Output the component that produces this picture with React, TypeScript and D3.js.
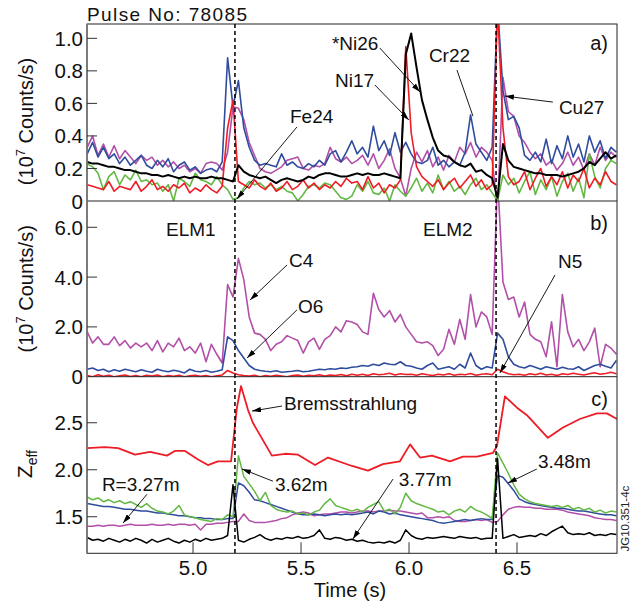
import React from "react";
import * as d3 from "d3";

// ---------- sampling grid (s) ----------
const T0 = 4.51;
const DT = 0.025;

// ---------- panel a: impurity line intensities (1e7 counts/s) ----------
const aCr22 = [0.29,0.36,0.27,0.33,0.26,0.29,0.23,0.27,0.22,0.25,
 0.28,0.22,0.20,0.25,0.21,0.26,0.18,0.22,0.24,0.19,
 0.21,0.17,0.19,0.20,0.18,0.24,0.88,0.58,0.74,0.45,
 0.33,0.25,0.22,0.23,0.22,0.21,0.29,0.22,0.24,0.21,
 0.20,0.23,0.21,0.25,0.22,0.29,0.31,0.24,0.30,0.37,
 0.29,0.33,0.27,0.46,0.31,0.37,0.28,0.42,0.30,0.36,
 0.29,0.24,0.23,0.25,0.33,0.22,0.25,0.21,0.24,0.22,
 0.30,0.53,0.35,0.30,0.25,0.33,1.20,0.68,0.50,0.52,
 0.45,0.28,0.25,0.30,0.24,0.38,0.23,0.34,0.26,0.40,
 0.27,0.35,0.24,0.40,0.30,0.37,0.26,0.33,0.30];
const aNi17 = [0.10,0.09,0.08,0.07,0.12,0.06,0.09,0.08,0.07,0.12,
 0.06,0.09,0.13,0.07,0.09,0.06,0.10,0.08,0.11,0.05,
 0.08,0.06,0.10,0.07,0.05,0.09,0.45,0.62,0.12,0.10,
 0.08,0.13,0.09,0.07,0.11,0.06,0.08,0.12,0.07,0.09,
 0.13,0.08,0.11,0.07,0.10,0.08,0.12,0.09,0.14,0.11,
 0.12,0.07,0.15,0.08,0.11,0.05,0.10,0.08,0.13,0.95,
 0.42,0.21,0.15,0.12,0.09,0.13,0.07,0.11,0.14,0.08,
 0.12,0.16,0.09,0.13,0.07,0.10,1.20,0.45,0.15,0.10,
 0.12,0.18,0.07,0.14,0.20,0.09,0.15,0.10,0.18,0.08,
 0.16,0.12,0.20,0.08,0.14,0.10,0.18,0.12,0.10];
const aNi26 = [0.24,0.23,0.23,0.22,0.21,0.21,0.20,0.19,0.19,0.18,
 0.17,0.17,0.16,0.16,0.15,0.16,0.15,0.14,0.15,0.14,
 0.15,0.14,0.14,0.15,0.14,0.14,0.13,0.12,0.22,0.18,
 0.16,0.15,0.14,0.15,0.13,0.11,0.13,0.14,0.13,0.12,
 0.13,0.15,0.14,0.16,0.17,0.17,0.16,0.15,0.15,0.16,
 0.17,0.16,0.17,0.16,0.16,0.17,0.16,0.15,0.14,0.90,
 1.03,0.82,0.62,0.50,0.39,0.31,0.28,0.27,0.24,0.22,
 0.21,0.23,0.18,0.19,0.16,0.14,0.02,0.35,0.25,0.21,
 0.20,0.19,0.18,0.17,0.17,0.16,0.16,0.16,0.15,0.16,
 0.17,0.18,0.20,0.24,0.22,0.26,0.30,0.26,0.28];
const aCu27 = [0.33,0.40,0.28,0.35,0.27,0.34,0.26,0.31,0.27,0.23,
 0.28,0.25,0.27,0.22,0.25,0.21,0.24,0.20,0.22,0.18,
 0.20,0.17,0.23,0.24,0.23,0.19,0.30,0.58,0.57,0.50,
 0.36,0.28,0.20,0.18,0.17,0.19,0.21,0.25,0.26,0.27,
 0.20,0.19,0.22,0.21,0.23,0.33,0.26,0.24,0.27,0.23,
 0.25,0.28,0.22,0.29,0.20,0.25,0.32,0.20,0.14,0.03,
 0.20,0.30,0.24,0.31,0.21,0.27,0.19,0.28,0.24,0.33,
 0.29,0.36,0.27,0.33,0.30,0.25,-0.05,0.76,0.55,0.52,
 0.40,0.36,0.30,0.26,0.29,0.22,0.25,0.19,0.23,0.30,
 0.22,0.27,0.19,0.29,0.22,0.33,0.25,0.30,0.27];
const aFe24 = [0.23,0.21,0.17,0.07,0.15,0.18,0.10,0.16,0.13,0.19,
 0.12,0.13,0.10,0.11,0.06,0.10,0.00,0.14,0.12,0.09,
 0.17,0.13,0.12,0.10,0.15,0.10,0.07,0.01,0.02,0.08,
 0.12,0.10,0.11,0.08,0.10,0.07,0.09,0.06,0.05,0.00,
 0.04,0.09,0.10,0.08,0.11,0.10,0.06,0.02,0.01,0.03,
 0.10,0.06,0.12,0.05,0.04,0.08,0.00,0.10,0.06,0.03,
 0.08,0.14,0.06,0.11,0.05,0.16,0.07,0.12,0.06,0.09,
 0.04,0.10,0.14,0.07,0.10,0.05,0.00,0.16,0.10,0.14,
 0.05,0.12,0.18,0.04,0.13,0.07,0.15,0.03,0.12,0.17,
 0.06,0.14,0.02,0.29,0.15,0.08,0.20,0.25,0.23];

// ---------- panel b: light impurities ----------
const bC4 = [1.80,1.35,1.60,1.30,1.30,1.60,1.25,1.45,1.15,1.35,
 1.20,1.35,1.05,1.45,1.00,1.35,1.20,1.55,1.05,1.20,
 0.95,1.35,0.60,1.30,0.90,0.55,3.70,3.20,4.75,3.90,
 2.40,1.75,1.70,1.50,1.05,1.30,1.40,1.65,1.55,1.45,
 0.95,1.40,1.55,1.10,1.50,1.65,2.00,1.80,2.25,2.20,
 2.10,1.80,1.70,3.35,2.70,2.40,2.65,2.20,2.50,2.00,
 1.70,1.40,1.35,1.40,1.25,0.85,1.10,1.90,1.30,2.30,
 1.50,3.30,2.00,2.60,2.40,1.70,8.00,3.80,3.10,3.20,
 2.40,3.00,1.70,1.50,1.40,0.80,2.20,0.40,3.30,1.80,
 1.20,1.50,1.05,1.40,1.95,0.40,1.30,1.15,0.90];
const bO6 = [0.30,0.35,0.25,0.30,0.20,0.28,0.22,0.30,0.25,0.20,
 0.28,0.22,0.18,0.30,0.24,0.20,0.26,0.22,0.15,0.30,
 0.22,0.20,0.25,0.18,0.22,0.28,1.60,1.45,1.05,0.75,
 0.45,0.30,0.25,0.22,0.20,0.24,0.18,0.20,0.22,0.25,
 0.20,0.22,0.26,0.30,0.28,0.32,0.30,0.35,0.33,0.38,
 0.40,0.45,0.42,0.50,0.45,0.55,0.50,0.48,0.60,0.45,
 0.42,0.35,0.30,0.45,0.55,0.30,0.35,0.40,0.30,0.50,
 0.35,0.95,0.45,0.30,0.40,0.35,1.75,1.50,0.80,0.50,
 0.40,0.35,0.45,0.38,0.30,0.40,0.35,0.30,0.38,0.32,
 0.30,0.40,0.25,0.35,0.45,0.50,0.42,0.35,0.65];
const bN5 = [0.05,0.00,0.08,0.02,0.06,0.00,0.04,0.07,0.01,0.05,
 0.00,0.06,0.03,0.07,0.00,0.05,0.02,0.06,0.00,0.04,
 0.06,0.02,0.05,0.00,0.04,0.07,0.25,0.15,0.08,0.05,
 0.03,0.06,0.00,0.05,0.02,0.06,0.03,0.00,0.05,0.07,
 0.02,0.06,0.04,0.08,0.03,0.07,0.05,0.09,0.04,0.10,
 0.06,0.10,0.05,0.12,0.08,0.10,0.14,0.07,0.12,0.09,
 0.10,0.06,0.12,0.08,0.05,0.10,0.07,0.12,0.06,0.10,
 0.08,0.13,0.06,0.10,0.12,0.08,0.30,0.20,0.12,0.08,
 0.10,0.06,0.12,0.08,0.14,0.07,0.10,0.05,0.12,0.09,
 0.14,0.10,0.07,0.12,0.16,0.10,0.13,0.18,0.12];

// ---------- panel c: Zeff ----------
const cZ362 = [1.71,1.68,1.70,1.66,1.68,1.65,1.67,1.64,1.66,1.63,
 1.60,1.64,1.59,1.56,1.55,1.53,1.56,1.62,1.52,1.50,
 1.49,1.47,1.46,1.45,1.48,1.47,1.52,1.50,2.15,1.93,
 1.85,1.77,1.67,1.76,1.62,1.58,1.56,1.55,1.56,1.53,
 1.54,1.52,1.55,1.57,1.64,1.69,1.62,1.60,1.58,1.56,
 1.58,1.55,1.60,1.63,1.66,1.56,1.58,1.53,1.60,1.75,
 1.67,1.64,1.62,1.60,1.58,1.55,1.56,1.52,1.56,1.58,
 1.55,1.61,1.57,1.55,1.52,1.48,2.18,2.07,1.96,1.84,
 1.74,1.69,1.66,1.64,1.63,1.62,1.61,1.62,1.60,1.62,
 1.58,1.60,1.57,1.59,1.55,1.57,1.54,1.56,1.55];
const cZ348 = [1.64,1.63,1.62,1.61,1.61,1.60,1.59,1.58,1.58,1.57,
 1.56,1.56,1.55,1.54,1.54,1.53,1.52,1.51,1.51,1.50,
 1.49,1.49,1.48,1.48,1.47,1.47,1.48,1.48,1.86,1.83,
 1.76,1.68,1.67,1.65,1.63,1.61,1.59,1.57,1.55,1.53,
 1.52,1.52,1.53,1.52,1.51,1.52,1.53,1.52,1.53,1.52,
 1.53,1.54,1.55,1.53,1.56,1.55,1.53,1.54,1.52,1.51,
 1.50,1.49,1.48,1.47,1.46,1.44,1.43,1.44,1.45,1.46,
 1.47,1.46,1.47,1.48,1.47,1.47,1.94,1.92,1.85,1.78,
 1.69,1.66,1.64,1.63,1.62,1.61,1.60,1.59,1.59,1.58,
 1.57,1.56,1.56,1.55,1.54,1.53,1.52,1.52,1.51];
const cZ327 = [1.40,1.40,1.41,1.40,1.41,1.41,1.40,1.41,1.42,1.41,
 1.41,1.41,1.42,1.41,1.41,1.42,1.41,1.42,1.42,1.41,
 1.42,1.36,1.42,1.42,1.43,1.43,1.44,1.45,1.45,1.53,
 1.46,1.44,1.44,1.44,1.45,1.46,1.48,1.49,1.52,1.54,
 1.55,1.54,1.51,1.52,1.53,1.53,1.54,1.55,1.55,1.54,
 1.55,1.56,1.56,1.55,1.56,1.56,1.57,1.56,1.56,1.55,
 1.54,1.53,1.54,1.49,1.49,1.50,1.49,1.50,1.46,1.45,
 1.45,1.46,1.47,1.46,1.47,1.44,1.45,1.52,1.58,1.60,
 1.61,1.60,1.60,1.59,1.59,1.58,1.58,1.58,1.57,1.55,
 1.54,1.53,1.52,1.51,1.49,1.48,1.47,1.47,1.46];
const cZ377 = [1.28,1.25,1.26,1.24,1.27,1.25,1.23,1.26,1.24,1.27,
 1.25,1.22,1.26,1.23,1.25,1.27,1.24,1.22,1.25,1.23,
 1.26,1.24,1.27,1.25,1.26,1.27,1.30,1.84,1.25,1.23,
 1.26,1.28,1.31,1.27,1.25,1.27,1.26,1.28,1.27,1.29,
 1.27,1.28,1.30,1.36,1.27,1.26,1.28,1.27,1.25,1.26,
 1.24,1.25,1.23,1.22,1.23,1.22,1.24,1.22,1.25,1.36,
 1.30,1.27,1.26,1.28,1.27,1.28,1.29,1.28,1.27,1.29,
 1.28,1.27,1.28,1.26,1.27,1.27,2.12,1.27,1.29,1.31,
 1.28,1.29,1.30,1.29,1.32,1.30,1.34,1.37,1.40,1.33,
 1.31,1.32,1.31,1.33,1.30,1.31,1.30,1.32,1.31];
const bremT = [4.509,4.592,4.653,4.731,4.801,4.879,4.916,4.963,5.023,5.069,5.115,5.176,5.203,5.222,5.254,5.277,5.365,5.426,5.486,5.565,5.625,5.736,5.810,5.879,5.958,6.005,6.051,6.106,6.190,6.250,6.315,6.389,6.407,6.444,6.500,6.546,6.643,6.713,6.791,6.870,6.916,6.963];
const bremV = [2.23,2.24,2.23,2.16,2.19,2.15,2.20,2.20,2.11,2.05,2.09,2.09,2.66,2.89,2.64,2.50,2.15,2.17,2.16,2.05,2.13,2.04,1.99,2.06,2.09,2.27,2.13,2.15,2.09,2.14,2.14,2.18,2.25,2.78,2.66,2.58,2.34,2.45,2.54,2.60,2.60,2.54];

// ---------- axes ----------
const xTicks = [5.0, 5.5, 6.0, 6.5];
const aTicks = [0, 0.2, 0.4, 0.6, 0.8, 1.0];
const bTicks = [0, 2.0, 4.0, 6.0];
const cTicks = [1.5, 2.0, 2.5];
const elmTimes = [5.194, 6.403];

const annA = [
  { label: "*Ni26", tx: 5.643, ty: 0.928, from: [5.865, 0.94], to: [6.051, 0.67], head: true },
  { label: "Ni17", tx: 5.657, ty: 0.70, from: [5.842, 0.713], to: [5.999, 0.498], head: true },
  { label: "Cr22", tx: 6.092, ty: 0.854, from: [6.222, 0.805], to: [6.296, 0.522], head: false },
  { label: "Cu27", tx: 6.694, ty: 0.535, from: [6.666, 0.608], to: [6.444, 0.645], head: true },
  { label: "Fe24", tx: 5.449, ty: 0.479, from: [5.481, 0.455], to: [5.203, 0.012], head: true },
];
const annB = [
  { label: "ELM1", tx: 4.875, ty: 5.65 },
  { label: "ELM2", tx: 6.065, ty: 5.65 },
  { label: "C4", tx: 5.444, ty: 4.406, from: [5.435, 4.486], to: [5.264, 3.08], head: true },
  { label: "O6", tx: 5.486, ty: 2.56, from: [5.481, 2.68], to: [5.25, 0.751], head: true },
  { label: "N5", tx: 6.69, ty: 4.366, from: [6.676, 4.084], to: [6.421, 0.149], head: true },
];
const annC = [
  { label: "Bremsstrahlung", tx: 5.421, ty: 2.635, from: [5.412, 2.678], to: [5.273, 2.624], head: true },
  { label: "3.62m", tx: 5.379, ty: 1.772, from: [5.37, 1.878], to: [5.227, 2.008], head: true },
  { label: "R=3.27m", tx: 4.578, ty: 1.772, from: [4.787, 1.74], to: [4.676, 1.433], head: true },
  { label: "3.77m", tx: 5.953, ty: 1.827, from: [5.926, 1.901], to: [5.74, 1.263], head: true },
  { label: "3.48m", tx: 6.597, ty: 2.018, from: [6.592, 2.008], to: [6.458, 1.859], head: true },
];

const FONT = "'Liberation Sans', Arial, Helvetica, sans-serif";
const COL = { red: "#ee1c25", blue: "#2f4c9e", magenta: "#b24fa8", green: "#63b843", black: "#000000" };

const XL = 87, XR = 617;
const x = d3.scaleLinear().domain([4.509, 6.963]).range([XL, XR]);
const yA = d3.scaleLinear().domain([0, 1.088]).range([201, 24]);
const yB = d3.scaleLinear().domain([0, 7.056]).range([376.7, 201]);
const yC = d3.scaleLinear().domain([1.111, 2.99]).range([553.3, 376.7]);

const tAt = (i: number) => T0 + i * DT;
const gridLine = (vals: number[], y: any) =>
  d3.line<number>().x((_, i) => x(tAt(i))).y((d) => y(d))(vals) || "";
const pairLine = (ts: number[], vs: number[], y: any) =>
  d3.line<number>().x((d) => x(d)).y((_, i) => y(vs[i]))(ts) || "";

const panels = [
  {
    id: "a", y: yA, ticks: aTicks, fmt: (v: number) => (v === 0 ? "0" : d3.format(".1f")(v)),
    tag: "a)", tagY: 0.928, ann: annA,
    series: [
      { vals: aCu27, color: COL.magenta, w: 1.6 },
      { vals: aFe24, color: COL.green, w: 1.6 },
      { vals: aCr22, color: COL.blue, w: 1.6 },
      { vals: aNi17, color: COL.red, w: 1.6 },
      { vals: aNi26, color: COL.black, w: 2 },
    ],
  },
  {
    id: "b", y: yB, ticks: bTicks, fmt: (v: number) => (v === 0 ? "0" : d3.format(".1f")(v)),
    tag: "b)", tagY: 5.892, ann: annB,
    series: [
      { vals: bC4, color: COL.magenta, w: 1.6 },
      { vals: bO6, color: COL.blue, w: 1.6 },
      { vals: bN5, color: COL.red, w: 1.6 },
    ],
  },
  {
    id: "c", y: yC, ticks: cTicks, fmt: (v: number) => d3.format(".1f")(v),
    tag: "c)", tagY: 2.678, ann: annC,
    series: [
      { vals: cZ327, color: COL.magenta, w: 1.5 },
      { vals: cZ348, color: COL.blue, w: 1.5 },
      { vals: cZ362, color: COL.green, w: 1.5 },
      { vals: cZ377, color: COL.black, w: 1.5 },
    ],
  },
];

export default function App() {
  const top = yA.range()[1];
  const bottom = yC.range()[0];
  return (
    <svg width={637} height={608} style={{ position: "absolute", left: 0, top: 0, background: "#fff" }}
      fontFamily={FONT}>
      <defs>
        {panels.map((p) => {
          const [b, t] = p.y.range();
          return (
            <clipPath id={`clip-${p.id}`} key={p.id}>
              <rect x={XL} y={t} width={XR - XL} height={b - t} />
            </clipPath>
          );
        })}
        <marker id="ah" viewBox="0 0 10 6" refX={10} refY={3} markerWidth={9} markerHeight={5.4}
          markerUnits="userSpaceOnUse" orient="auto">
          <path d="M0,0 L10,3 L0,6 z" fill="#000" />
        </marker>
      </defs>

      {/* data */}
      {panels.map((p) => (
        <g key={p.id} clipPath={`url(#clip-${p.id})`} fill="none" strokeLinejoin="round">
          {p.id === "c" && (
            <path d={pairLine(bremT, bremV, yC)} stroke={COL.red} strokeWidth={1.8} />
          )}
          {p.series.map((s, i) => (
            <path key={i} d={gridLine(s.vals, p.y)} stroke={s.color} strokeWidth={s.w} />
          ))}
        </g>
      ))}

      {/* frames */}
      <rect x={XL} y={top} width={XR - XL} height={bottom - top} fill="none" stroke="#222" strokeWidth={1} />
      <line x1={XL} x2={XR} y1={yA(0)} y2={yA(0)} stroke="#222" strokeWidth={1} />
      <line x1={XL} x2={XR} y1={yB(0)} y2={yB(0)} stroke="#222" strokeWidth={1} />
      <line x1={XL} x2={XL} y1={top} y2={bottom} stroke="#777" strokeWidth={1.6} />

      {/* y ticks */}
      {panels.map((p) =>
        p.ticks.map((v) => (
          <g key={p.id + v}>
            {v !== p.y.domain()[0] && (
              <line x1={XL} x2={XL + 10} y1={p.y(v)} y2={p.y(v)} stroke="#333" strokeWidth={1} />
            )}
            <text x={83} y={p.y(v) + 7.5} textAnchor="end" fontSize={20.5} fill="#111">{p.fmt(v)}</text>
          </g>
        ))
      )}

      {/* x ticks */}
      {xTicks.map((t) => (
        <g key={t}>
          <line x1={x(t)} x2={x(t)} y1={bottom} y2={bottom - 11} stroke="#333" strokeWidth={1} />
          <text x={x(t)} y={575} textAnchor="middle" fontSize={20.5} fill="#111">{d3.format(".1f")(t)}</text>
        </g>
      ))}
      <text x={350} y={597} textAnchor="middle" fontSize={20} fill="#111">Time (s)</text>

      {/* ELM markers */}
      {elmTimes.map((t) => (
        <line key={t} x1={x(t)} x2={x(t)} y1={top} y2={bottom} stroke="#000" strokeWidth={1.5}
          strokeDasharray="4,3" />
      ))}

      {/* annotations */}
      {panels.map((p) => (
        <g key={"ann" + p.id}>
          {p.ann.map((a: any) => (
            <g key={a.label}>
              {a.from && (
                <line x1={x(a.from[0])} y1={p.y(a.from[1])} x2={x(a.to[0])} y2={p.y(a.to[1])}
                  stroke="#000" strokeWidth={0.9} markerEnd={a.head ? "url(#ah)" : undefined} />
              )}
              <text x={x(a.tx)} y={p.y(a.ty)} fontSize={19} fill="#111">{a.label}</text>
            </g>
          ))}
          <text x={x(6.921)} y={p.y(p.tagY)} textAnchor="end" fontSize={20} fill="#111">{p.tag}</text>
        </g>
      ))}

      {/* titles */}
      <text x={XL} y={21} fontSize={19} letterSpacing={1.4} fill="#111">Pulse No: 78085</text>
      <text transform={`translate(33,${(yA(0) + yA.range()[1]) / 2 + 9}) rotate(-90)`} textAnchor="middle"
        fontSize={20} fill="#111">
        (10<tspan fontSize={13} dy={-8}>7</tspan><tspan dy={8}> Counts/s)</tspan>
      </text>
      <text transform={`translate(33,${(yB(0) + yB.range()[1]) / 2}) rotate(-90)`} textAnchor="middle"
        fontSize={20} fill="#111">
        (10<tspan fontSize={13} dy={-8}>7</tspan><tspan dy={8}> Counts/s)</tspan>
      </text>
      <text transform={`translate(32,${yC(2.06)}) rotate(-90)`} textAnchor="middle" fontSize={21} fill="#111">
        Z<tspan fontSize={14} dy={5}>eff</tspan>
      </text>
      <text transform={`translate(629,${yC(1.48)}) rotate(-90)`} textAnchor="middle" fontSize={11.5} fill="#222">
        JG10.351-4c
      </text>
    </svg>
  );
}
